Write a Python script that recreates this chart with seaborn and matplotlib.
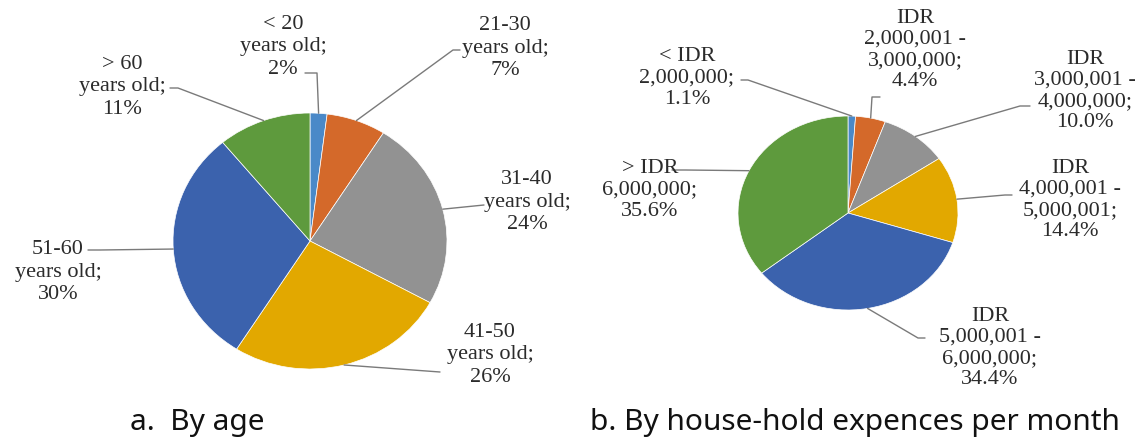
import numpy as np
import matplotlib
matplotlib.use("Agg")
import matplotlib.pyplot as plt
import seaborn as sns

################ DATA ################
age_labels = ["< 20\nyears old;\n2%", "21-30\nyears old;\n7%", "31-40\nyears old;\n24%",
              "41-50\nyears old;\n26%", "51-60\nyears old;\n30%", "> 60\nyears old;\n11%"]
age_values = [2, 7, 24, 26, 30, 11]

exp_labels = ["< IDR\n2,000,000;\n1.1%", "IDR\n2,000,001 -\n3,000,000;\n4.4%",
              "IDR\n3,000,001 -\n4,000,000;\n10.0%", "IDR\n4,000,001 -\n5,000,001;\n14.4%",
              "IDR\n5,000,001 -\n6,000,000;\n34.4%", "> IDR\n6,000,000;\n35.6%"]
exp_values = [1.1, 4.4, 10.0, 14.4, 34.4, 35.6]

colors = ["#4a89c8", "#d4692a", "#929292", "#e2a800", "#3b62ad", "#5e9a3d"]

################ LAYOUT (pixels) ################
W, H = 1140, 445
# pie centre and radii (slightly stretched like the source)
age_geom = (310, 241, 137, 128)
exp_geom = (848, 213, 110, 97)

# text centre and leader anchor per label
age_text = [(283, 47), (505, 48), (527, 202), (490, 355), (58, 272), (122, 87)]
age_anchor = [[(305, 73), (317, 73)], [(460, 50), (453, 50)], [(484, 205)],
              [(440, 372)], [(88, 250), (100, 250)], [(170, 88), (178, 88)]]
exp_text = [(687, 78), (915, 50), (1085, 91), (1070, 200), (990, 348), (650, 190)]
exp_anchor = [[(741, 80), (748, 80)], [(880, 97), (872, 97)], [(1030, 106), (1020, 106)],
              [(1012, 195), (1005, 195)], [(925, 338), (918, 338)], [(672, 170), (685, 170)]]

sns.set_theme(style="white")
plt.rcParams["font.family"] = ["Liberation Serif", "DejaVu Serif"]

fig = plt.figure(figsize=(W / 100, H / 100), dpi=100)


def pie_axes(geom):
    cx, cy, rx, ry = geom
    ax = fig.add_axes([(cx - rx) / W, (H - cy - ry) / H, 2 * rx / W, 2 * ry / H])
    return ax


def draw_pie(geom, values):
    ax = pie_axes(geom)
    wedges, _ = ax.pie(values, colors=colors, startangle=90, counterclock=False,
                       radius=1, wedgeprops=dict(edgecolor="white", linewidth=0.5))
    ax.set_aspect("auto")
    ax.set_xlim(-1, 1)
    ax.set_ylim(-1, 1)
    ax.axis("off")
    return wedges


age_wedges = draw_pie(age_geom, age_values)
exp_wedges = draw_pie(exp_geom, exp_values)

# overlay in pixel coordinates for labels and leader lines
ov = fig.add_axes([0, 0, 1, 1], zorder=5)
ov.set_xlim(0, W)
ov.set_ylim(H, 0)
ov.axis("off")
ov.patch.set_alpha(0)


def add_labels(geom, wedges, labels, text_pos, anchors, spacing):
    cx, cy, rx, ry = geom
    for w, lab, (tx, ty), anc in zip(wedges, labels, text_pos, anchors):
        mid = np.deg2rad((w.theta1 + w.theta2) / 2)
        ex = cx + rx * np.cos(mid)
        ey = cy - ry * np.sin(mid)
        pts = anc + [(ex, ey)]
        ov.plot([p[0] for p in pts], [p[1] for p in pts], color="#7a7a7a", lw=1.0)
        ov.text(tx, ty, lab, ha="center", va="center", fontsize=16,
                color="#2b2b2b", linespacing=spacing)


add_labels(age_geom, age_wedges, age_labels, age_text, age_anchor, 1.25)
add_labels(exp_geom, exp_wedges, exp_labels, exp_text, exp_anchor, 1.15)

################ CAPTIONS ################
cap_font = ["Noto Sans", "DejaVu Sans"]
ov.text(130, 430, "a.  By age", fontsize=21.5, family=cap_font,
        color="#111111", ha="left", va="baseline")
ov.text(590, 430, "b. By house-hold expences per month", fontsize=21.5,
        family=cap_font, color="#111111", ha="left", va="baseline")

fig.savefig("out.png", dpi=100, facecolor="white")
